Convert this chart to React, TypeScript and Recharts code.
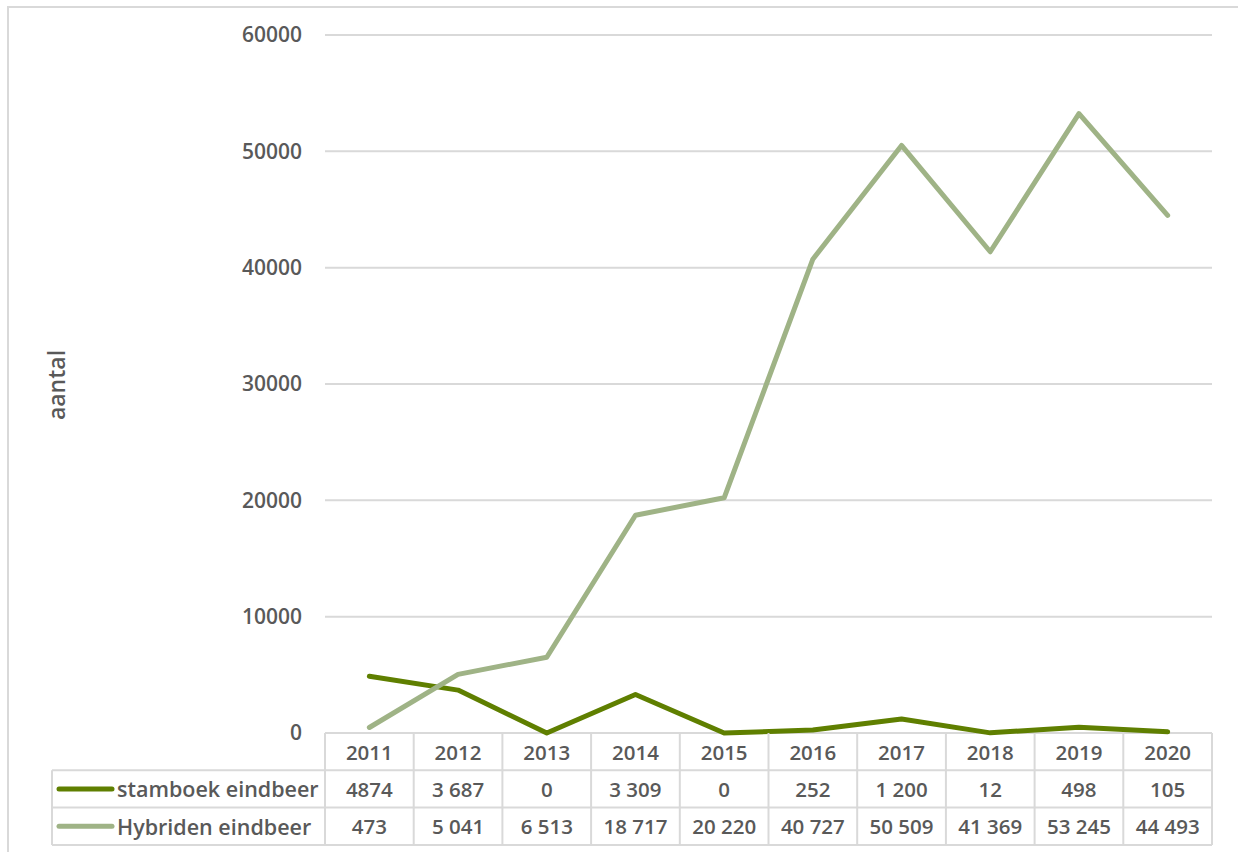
import { CartesianGrid, Line, LineChart, XAxis, YAxis } from 'recharts'

const years = ['2011', '2012', '2013', '2014', '2015', '2016', '2017', '2018', '2019', '2020']
const stamboek = [4874, 3687, 0, 3309, 0, 252, 1200, 12, 498, 105]
const hybriden = [473, 5041, 6513, 18717, 20220, 40727, 50509, 41369, 53245, 44493]
const stamboekLabels = ['4874', '3 687', '0', '3 309', '0', '252', '1 200', '12', '498', '105']
const hybridenLabels = ['473', '5 041', '6 513', '18 717', '20 220', '40 727', '50 509', '41 369', '53 245', '44 493']
const yTicks = [0, 10000, 20000, 30000, 40000, 50000, 60000]

const DARK = '#5f7f00'
const LIGHT = '#9fb386'
const TEXT = '#595959'
const BORDER = '#d9d9d9'
const FONT = '"Open Sans", "DejaVu Sans", sans-serif'

// plot area in page pixels
const PLOT_LEFT = 325
const PLOT_RIGHT = 1212
const PLOT_TOP = 35
const PLOT_BOTTOM = 733
const ROW_H = 37.3
const TABLE_LEFT = 52
const HALF = (PLOT_RIGHT - PLOT_LEFT) / years.length / 2

const data = years.map((year, i) => ({
  year,
  stamboek: stamboek[i],
  hybriden: hybriden[i],
}))

function TableTick(props: any) {
  const { x, payload } = props
  const i = payload?.index ?? props.index ?? 0
  const r1 = PLOT_BOTTOM + ROW_H
  const r2 = PLOT_BOTTOM + ROW_H * 2
  const r3 = PLOT_BOTTOM + ROW_H * 3
  const textProps = {
    fill: TEXT,
    fontSize: 20.5,
    fontWeight: 600,
    fontFamily: FONT,
    textAnchor: 'middle' as const,
    dominantBaseline: 'central' as const,
  }
  return (
    <g>
      {i === 0 && (
        <g>
          <line x1={TABLE_LEFT} x2={PLOT_RIGHT} y1={r1} y2={r1} stroke={BORDER} strokeWidth={2} />
          <line x1={TABLE_LEFT} x2={PLOT_RIGHT} y1={r2} y2={r2} stroke={BORDER} strokeWidth={2} />
          <line x1={TABLE_LEFT} x2={PLOT_RIGHT} y1={r3} y2={r3} stroke={BORDER} strokeWidth={2} />
          <line x1={TABLE_LEFT} x2={TABLE_LEFT} y1={r1} y2={r3} stroke={BORDER} strokeWidth={2} />
          <line x1={x - HALF} x2={x - HALF} y1={PLOT_BOTTOM} y2={r3} stroke={BORDER} strokeWidth={2} />
          <line x1={59} x2={112} y1={(r1 + r2) / 2} y2={(r1 + r2) / 2} stroke={DARK} strokeWidth={5} strokeLinecap="round" />
          <line x1={59} x2={112} y1={(r2 + r3) / 2} y2={(r2 + r3) / 2} stroke={LIGHT} strokeWidth={5} strokeLinecap="round" />
          <text {...textProps} x={117} y={(r1 + r2) / 2} textAnchor="start" fontSize={21.5}>
            stamboek eindbeer
          </text>
          <text {...textProps} x={117} y={(r2 + r3) / 2} textAnchor="start" fontSize={21.5}>
            Hybriden eindbeer
          </text>
        </g>
      )}
      <line x1={x + HALF} x2={x + HALF} y1={PLOT_BOTTOM} y2={r3} stroke={BORDER} strokeWidth={2} />
      <text {...textProps} x={x} y={(PLOT_BOTTOM + r1) / 2}>
        {years[i]}
      </text>
      <text {...textProps} x={x} y={(r1 + r2) / 2}>
        {stamboekLabels[i]}
      </text>
      <text {...textProps} x={x} y={(r2 + r3) / 2}>
        {hybridenLabels[i]}
      </text>
    </g>
  )
}

export default function App() {
  return (
    <div style={{ position: 'absolute', left: 0, top: 0, width: 1238, height: 852, background: '#fff' }}>
      <div
        style={{
          position: 'absolute',
          left: 7,
          top: 6,
          width: 1300,
          height: 900,
          border: `2px solid ${BORDER}`,
          boxSizing: 'border-box',
        }}
      />
      <LineChart
        width={1238}
        height={852}
        data={data}
        margin={{ top: PLOT_TOP, right: 1238 - PLOT_RIGHT, left: PLOT_LEFT - 100, bottom: 852 - PLOT_BOTTOM - 112 }}
        style={{ position: 'absolute', left: 0, top: 0 }}
      >
        <CartesianGrid vertical={false} stroke={BORDER} strokeWidth={2} />
        <XAxis
          dataKey="year"
          height={112}
          axisLine={false}
          tickLine={false}
          interval={0}
          padding={{ left: HALF, right: HALF }}
          tick={(p: any) => <TableTick {...p} />}
        />
        <YAxis
          width={100}
          domain={[0, 60000]}
          ticks={yTicks}
          axisLine={false}
          tickLine={false}
          tickSize={0}
          tickMargin={23}
          tick={{ fill: TEXT, fontSize: 21, fontWeight: 600, fontFamily: FONT }}
          label={() => (
            <text
              x={56}
              y={385}
              transform="rotate(-90 56 385)"
              textAnchor="middle"
              dominantBaseline="central"
              fill={TEXT}
              fontSize={23}
              fontWeight={600}
              fontFamily={FONT}
            >
              aantal
            </text>
          )}
        />
        <Line
          type="linear"
          dataKey="stamboek"
          stroke={DARK}
          strokeWidth={5}
          strokeLinecap="round"
          strokeLinejoin="round"
          dot={false}
          isAnimationActive={false}
        />
        <Line
          type="linear"
          dataKey="hybriden"
          stroke={LIGHT}
          strokeWidth={5}
          strokeLinecap="round"
          strokeLinejoin="round"
          dot={false}
          isAnimationActive={false}
        />
      </LineChart>
    </div>
  )
}
